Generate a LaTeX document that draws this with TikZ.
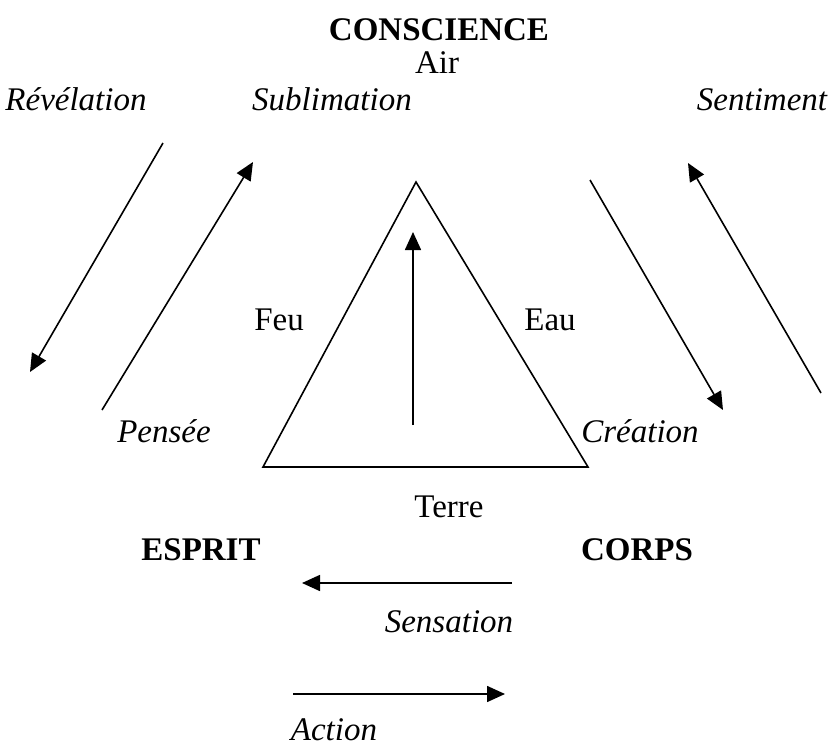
\documentclass[tikz,border=0pt]{standalone}
\usepackage{fontspec}
\setmainfont{Liberation Serif}
\usetikzlibrary{arrows.meta}
\begin{document}
\begin{tikzpicture}[x=1pt,y=-1pt,
  txt/.style={anchor=base,inner sep=0pt,font=\fontsize{33}{39}\selectfont},
  itxt/.style={txt,font=\fontsize{33}{39}\selectfont\itshape},
  btxt/.style={txt,font=\fontsize{33}{39}\selectfont\bfseries},
  arr/.style={line width=1.6pt,-{Triangle[length=18pt,width=16pt]}},
  ln/.style={line width=1.6pt,line join=miter}]
\useasboundingbox (0,0) rectangle (833,747);
% texts
\node[btxt] (consc) at (439,40) {CONSCIENCE};
\node[txt] (air) at (437,73) {Air};
\node[itxt] (revel) at (76,110) {Révélation};
\node[itxt] (subl) at (332,110) {Sublimation};
\node[itxt] (senti) at (762,110) {Sentiment};
\node[txt] (feu) at (279,330) {Feu};
\node[txt] (eau) at (550,330) {Eau};
\node[itxt] (pensee) at (164,442) {Pensée};
\node[itxt] (creat) at (640,442) {Création};
\node[txt] (terre) at (449,517) {Terre};
\node[btxt] (esprit) at (201,560) {ESPRIT};
\node[btxt] (corps) at (637,560) {CORPS};
\node[itxt] (sens) at (449,632) {Sensation};
\node[itxt] (action) at (334,740) {Action};
% triangle
\coordinate (apex) at (416,182);
\coordinate (bl) at (263,467);
\coordinate (br) at (588,467);
\draw[ln] (apex) -- (bl) -- (br) -- cycle;
% arrow coordinates
\coordinate (a1s) at (163,143); \coordinate (a1e) at (30,372);
\coordinate (a2s) at (102,410); \coordinate (a2e) at (253,162);
\coordinate (a3s) at (590,180); \coordinate (a3e) at (723,410);
\coordinate (a4s) at (821,393); \coordinate (a4e) at (688,163);
\coordinate (a5s) at (413,425); \coordinate (a5e) at (413,232);
\coordinate (a6s) at (512,583); \coordinate (a6e) at (302,583);
\coordinate (a7s) at (293,694); \coordinate (a7e) at (505,694);
\draw[arr] (a1s) -- (a1e);
\draw[arr] (a2s) -- (a2e);
\draw[arr] (a3s) -- (a3e);
\draw[arr] (a4s) -- (a4e);
\draw[arr] (a5s) -- (a5e);
\draw[arr] (a6s) -- (a6e);
\draw[arr] (a7s) -- (a7e);
\end{tikzpicture}
\end{document}
